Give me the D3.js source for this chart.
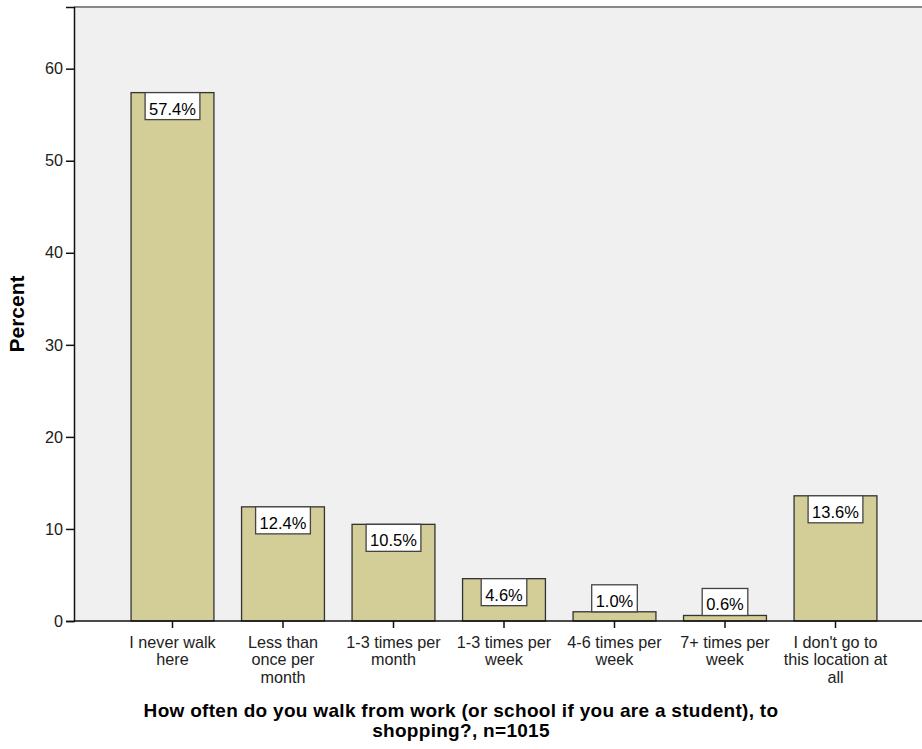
<!DOCTYPE html>
<html>
<head>
    <title>Walking frequency</title>
    <script src="https://cdnjs.cloudflare.com/ajax/libs/d3/7.8.5/d3.min.js"></script>
    <style>
        body { margin: 0; background: #fff; }
        svg { display: block; font-family: "Liberation Sans", Arial, sans-serif; }
        .bar { fill: #d3ce97; stroke: #333; stroke-width: 1.3; }
        .label-box { fill: #fff; stroke: #444; stroke-width: 1.3; }
        .label-text { font-size: 16.5px; fill: #000; }
        .tick text { font-size: 16.2px; fill: #222; }
        .axis-title { font-weight: bold; fill: #000; }
    </style>
</head>
<body>
    <div id="chart"></div>
    <script>
        // chart data
        const categories = [
            ["I never walk", "here"],
            ["Less than", "once per", "month"],
            ["1-3 times per", "month"],
            ["1-3 times per", "week"],
            ["4-6 times per", "week"],
            ["7+ times per", "week"],
            ["I don't go to", "this location at", "all"]
        ];
        const percents = [57.4, 12.4, 10.5, 4.6, 1.0, 0.6, 13.6];
        const yTicks = [0, 10, 20, 30, 40, 50, 60];
        const xTitle = ["How often do you walk from work (or school if you are a student), to", "shopping?, n=1015"];
        const yTitle = "Percent";

        const W = 922, H = 749;
        const plot = { left: 74, top: 7, right: 940, bottom: 621 };

        const svg = d3.select('#chart').append('svg')
            .attr('width', W)
            .attr('height', H);

        const keys = categories.map((c, i) => i);

        const x = d3.scaleBand()
            .domain(keys)
            .range([117.25, 890.75])
            .paddingInner(0.25)
            .paddingOuter(0.125);

        const y = d3.scaleLinear()
            .domain([0, 66.7])
            .range([plot.bottom, plot.top]);

        // plot background
        svg.append('rect')
            .attr('x', plot.left)
            .attr('y', plot.top)
            .attr('width', plot.right - plot.left)
            .attr('height', plot.bottom - plot.top)
            .attr('fill', '#f0f0f0');

        // top border
        svg.append('line')
            .attr('x1', plot.left).attr('x2', W)
            .attr('y1', plot.top).attr('y2', plot.top)
            .attr('stroke', '#888').attr('stroke-width', 2);

        // bars
        svg.selectAll('.bar')
            .data(percents)
            .enter()
            .append('rect')
            .attr('class', 'bar')
            .attr('x', (d, i) => x(i))
            .attr('y', d => y(d))
            .attr('width', x.bandwidth())
            .attr('height', d => y(0) - y(d));

        // value labels in white boxes
        const labels = svg.selectAll('.value-label')
            .data(percents)
            .enter()
            .append('g')
            .attr('class', 'value-label');

        const boxH = 27;
        labels.each(function (d, i) {
            const g = d3.select(this);
            const cx = x(i) + x.bandwidth() / 2;
            const rect = g.append('rect').attr('class', 'label-box');
            const txt = g.append('text')
                .attr('class', 'label-text')
                .attr('text-anchor', 'middle')
                .attr('x', cx)
                .text(d.toFixed(1) + '%');
            const tw = txt.node().getComputedTextLength();
            const barH = y(0) - y(d);
            const top = barH > boxH ? y(d) : y(d) - boxH;
            rect.attr('x', cx - tw / 2 - 4)
                .attr('y', top)
                .attr('width', tw + 8)
                .attr('height', boxH);
            txt.attr('y', top + 22);
        });

        // y axis
        const yAxis = svg.append('g')
            .attr('transform', `translate(${plot.left},0)`)
            .call(d3.axisLeft(y).tickValues(yTicks).tickSize(8).tickPadding(3));
        yAxis.select('.domain').attr('stroke', '#111').attr('stroke-width', 1.5);
        yAxis.selectAll('.tick line').attr('stroke', '#111').attr('stroke-width', 1.5);

        // x axis
        const xAxis = svg.append('g')
            .attr('transform', `translate(0,${plot.bottom})`)
            .call(d3.axisBottom(x).tickSize(7).tickFormat(''));
        xAxis.select('.domain').attr('d', `M${plot.left},0H${W}`)
            .attr('stroke', '#111').attr('stroke-width', 1.5);
        xAxis.selectAll('.tick line').attr('stroke', '#111').attr('stroke-width', 1.5);

        // multi-line category labels
        xAxis.selectAll('.tick').each(function (d) {
            const t = d3.select(this).select('text')
                .attr('y', 0)
                .attr('dy', null);
            categories[d].forEach((line, k) => {
                t.append('tspan')
                    .attr('x', 0)
                    .attr('y', 27 + k * 17.3)
                    .text(line);
            });
        });

        // y axis title
        svg.append('text')
            .attr('class', 'axis-title')
            .attr('transform', `translate(24,${(plot.top + plot.bottom) / 2}) rotate(-90)`)
            .attr('text-anchor', 'middle')
            .style('font-size', '21px')
            .text(yTitle);

        // x axis title
        xTitle.forEach((line, k) => {
            svg.append('text')
                .attr('class', 'axis-title')
                .attr('x', 461)
                .attr('y', 717 + k * 20)
                .attr('text-anchor', 'middle')
                .style('font-size', '19px')
                .style('letter-spacing', '0.3px')
                .text(line);
        });
    </script>
</body>
</html>
